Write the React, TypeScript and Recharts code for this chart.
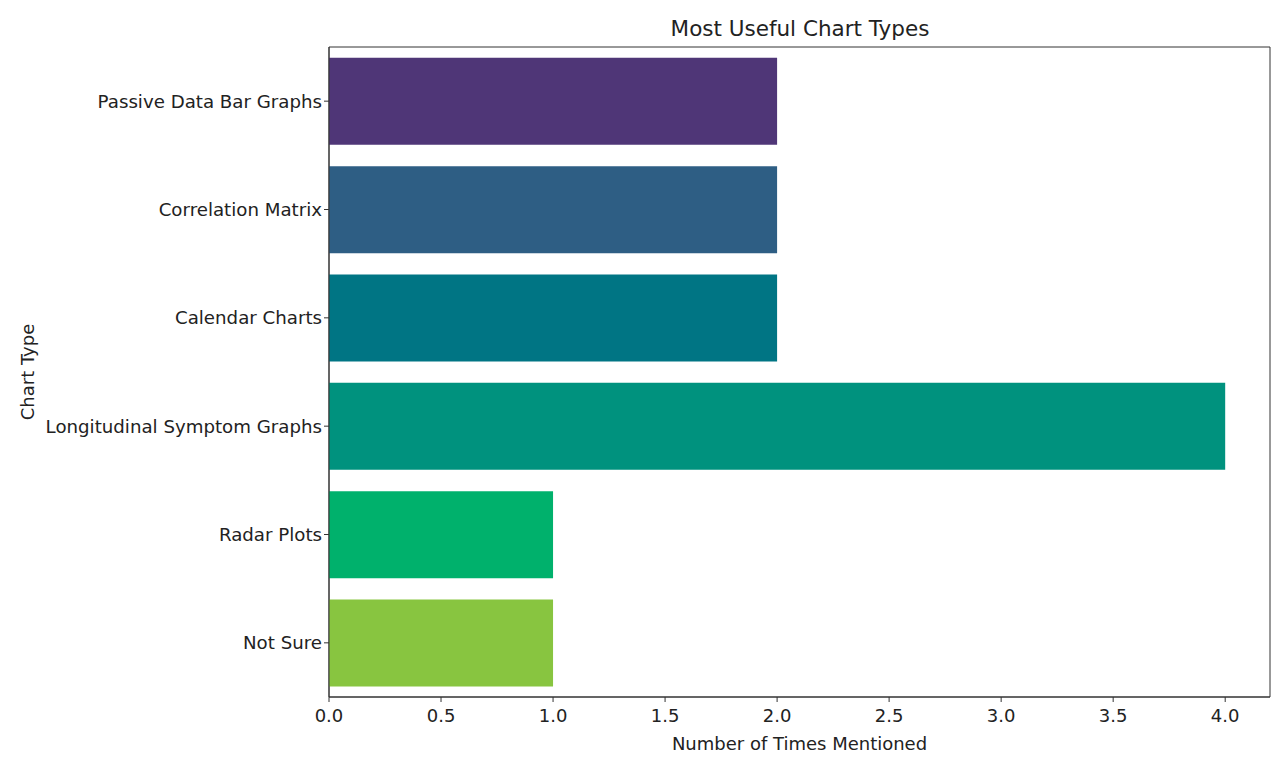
import { BarChart, Bar, XAxis, YAxis, Cell, ReferenceArea } from 'recharts';

// chart types (top to bottom) and how many times each was mentioned
const chartTypes = [
  'Passive Data Bar Graphs',
  'Correlation Matrix',
  'Calendar Charts',
  'Longitudinal Symptom Graphs',
  'Radar Plots',
  'Not Sure',
];
const mentions = [2, 2, 2, 4, 1, 1];
const barColors = ['#4f3677', '#2e5e84', '#007584', '#00927e', '#00b16c', '#88c540'];
const xTicks = [0, 0.5, 1, 1.5, 2, 2.5, 3, 3.5, 4];

const rows = chartTypes.map((name, i) => ({ name, count: mentions[i] }));

const font = '"DejaVu Sans", sans-serif';
const axisColor = '#333';

export default function App() {
  return (
    <div style={{ position: 'absolute', left: 0, top: 0, width: 1280, height: 764, background: '#fff', fontFamily: font }}>
      <div
        style={{
          position: 'absolute',
          left: 800,
          top: 17,
          transform: 'translateX(-50%)',
          whiteSpace: 'nowrap',
          fontSize: 21.5,
          color: '#222',
          lineHeight: '24px',
        }}
      >
        Most Useful Chart Types
      </div>
      {/* y axis title, rotated */}
      <div
        style={{
          position: 'absolute',
          left: 28,
          top: 372,
          transform: 'translate(-50%, -50%) rotate(-90deg)',
          whiteSpace: 'nowrap',
          fontSize: 18,
          color: '#222',
          lineHeight: '20px',
        }}
      >
        Chart Type
      </div>
      <BarChart
        width={1280}
        height={764}
        layout="vertical"
        data={rows}
        margin={{ top: 47, right: 10, bottom: 0, left: 0 }}
        barCategoryGap="10%"
      >
        <XAxis
          type="number"
          dataKey="count"
          domain={[0, 4.2]}
          ticks={xTicks}
          tickFormatter={(v: number) => v.toFixed(1)}
          allowDataOverflow
          stroke={axisColor}
          tickSize={5}
          tick={{ fill: '#222', fontSize: 18, fontFamily: font, dy: 5 }}
          height={67}
          label={{ value: 'Number of Times Mentioned', position: 'insideBottom', offset: 14, fill: '#222', fontSize: 18, fontFamily: font }}
        />
        <YAxis
          type="category"
          dataKey="name"
          width={329}
          stroke={axisColor}
          tickSize={5}
          interval={0}
          tick={{ fill: '#222', fontSize: 18.2, fontFamily: font }}
        />
        <Bar dataKey="count" isAnimationActive={false}>
          {rows.map((r, i) => (
            <Cell key={r.name} fill={barColors[i]} />
          ))}
        </Bar>
        <ReferenceArea x1={0} x2={4.2} fill="none" fillOpacity={0} stroke={axisColor} strokeWidth={1} ifOverflow="visible" />
      </BarChart>
    </div>
  );
}
